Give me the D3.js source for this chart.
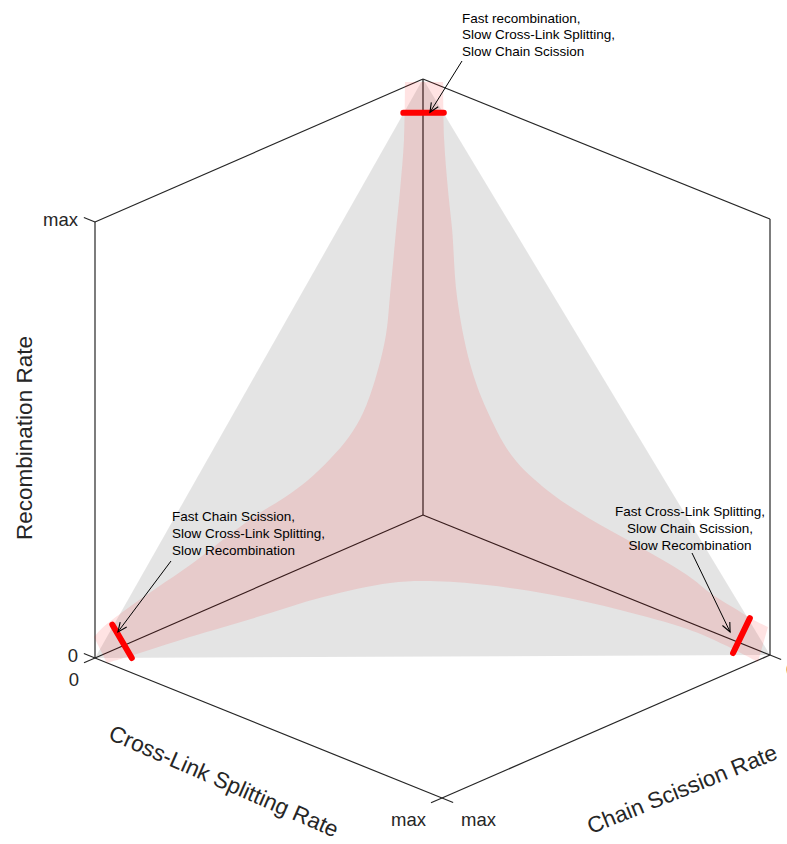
<!DOCTYPE html>
<html><head><meta charset="utf-8">
<script src="https://cdn.jsdelivr.net/npm/d3@7"></script>
<style>body{margin:0;background:#fff}svg{display:block}</style>
</head><body><svg id="chart" width="787" height="844"></svg>
<script>
// ---------- data (values in units of each rate's max, order [CS, CL, R]) ----------
const axisNames = ["Chain Scission Rate", "Cross-Link Splitting Rate", "Recombination Rate"];
const tickValues = [0, 1];
const tickLabels = ["0", "max"];

// plane of constant total rate (grey)
const simplexCorners = [[1, 0, 0], [0, 1, 0], [0, 0, 1]];

// pink region boundary
const bandUpperLeft = [ // on CL = 0 wall, from top arm to CS arm
  [0.055, 0, 1.011], [0.058, 0, 0.879], [0.070, 0, 0.768], [0.082, 0, 0.681],
  [0.101, 0, 0.533], [0.113, 0, 0.450], [0.146, 0, 0.358], [0.183, 0, 0.294],
  [0.226, 0, 0.253], [0.284, 0, 0.221], [0.351, 0, 0.195], [0.421, 0, 0.179],
  [0.497, 0, 0.168], [0.579, 0, 0.151], [0.710, 0, 0.118], [0.811, 0, 0.099],
  [0.915, 0, 0.078], [0.985, 0, 0.059], [1.003, 0, 0.049]
];
const bandLower = [ // on R = 0 floor, from CS arm to CL arm
  [1.001, 0.035, 0], [0.916, 0.050, 0], [0.785, 0.070, 0], [0.614, 0.102, 0],
  [0.444, 0.132, 0], [0.295, 0.184, 0], [0.230, 0.237, 0], [0.161, 0.336, 0],
  [0.100, 0.469, 0], [0.056, 0.621, 0], [0.027, 0.787, 0], [0.030, 0.898, 0],
  [0.043, 1.006, 0]
];
const bandUpperRight = [ // on CS = 0 wall, from CL arm to top arm
  [0, 0.994, 0.062], [0, 0.942, 0.066], [0, 0.905, 0.073], [0, 0.836, 0.085],
  [0, 0.761, 0.107], [0, 0.617, 0.129], [0, 0.473, 0.147], [0, 0.357, 0.172],
  [0, 0.259, 0.216], [0, 0.184, 0.300], [0, 0.135, 0.392], [0, 0.098, 0.532],
  [0, 0.084, 0.681], [0, 0.072, 0.769], [0, 0.061, 0.880], [0, 0.058, 1.012]
];

// red regime markers
const markers = [
  [[0.060, 0, 0.942], [0, 0.060, 0.942]],
  [[0.947, 0, 0.059], [0.946, 0.055, 0]],
  [[0, 0.942, 0.066], [0.047, 0.938, 0]]
];

// annotations
const annotationTexts = [
  ["Fast recombination,", "Slow Cross-Link Splitting,", "Slow Chain Scission"],
  ["Fast Chain Scission,", "Slow Cross-Link Splitting,", "Slow Recombination"],
  ["Fast Cross-Link Splitting,", "Slow Chain Scission,", "Slow Recombination"]
];
const annotationTargets = [[0, 0.02, 0.93], [0.93, 0, 0.037], [0, 0.885, 0.016]];

// ---------- layout ----------
const annotationLayout = [
  {x: 462, y: 22.5, anchor: "start", from: [462, 61]},
  {x: 172, y: 521, anchor: "start", from: [171, 561]},
  {x: 690, y: 516, anchor: "middle", from: [692, 553]}
];
const origin = [423, 515];
const FONT = "'Liberation Sans', Arial, Helvetica, sans-serif";
const AXC = "#262626";

// projection via linear scales (orthographic 3-D view)
const csX = d3.scaleLinear().domain([0, 1]).range([0, -328]);
const csY = d3.scaleLinear().domain([0, 1]).range([0, 143]);
const clX = d3.scaleLinear().domain([0, 1]).range([0, 347]);
const clY = d3.scaleLinear().domain([0, 1]).range([0, 140]);
const rY  = d3.scaleLinear().domain([0, 1]).range([0, -436]);
const P = p => [origin[0] + csX(p[0]) + clX(p[1]), origin[1] + csY(p[0]) + clY(p[1]) + rY(p[2])];

const svg = d3.select("#chart");
const g = svg.append("g");

// box lines
const d0 = tickValues[0], d1 = tickValues[1];
const edges = [
  [[d0, d0, d0], [d0, d0, d1]], [[d0, d0, d0], [d1, d0, d0]], [[d0, d0, d0], [d0, d1, d0]],
  [[d1, d0, d0], [d1, d0, d1]], [[d0, d1, d0], [d0, d1, d1]],
  [[d1, d0, d1], [d0, d0, d1]], [[d0, d0, d1], [d0, d1, d1]],
  [[d1, d0, d0], [d1, d1, d0]], [[d1, d1, d0], [d0, d1, d0]]
];
g.selectAll("line.edge").data(edges).join("line").attr("class", "edge")
  .attr("x1", d => P(d[0])[0]).attr("y1", d => P(d[0])[1])
  .attr("x2", d => P(d[1])[0]).attr("y2", d => P(d[1])[1])
  .attr("stroke", AXC).attr("stroke-width", 1.2);

// ticks
const tickLen = 12;
function tickSeg(pt, dirVec) {
  const a = P(pt), b = P([pt[0] + dirVec[0], pt[1] + dirVec[1], pt[2] + dirVec[2]]);
  const dx = b[0] - a[0], dy = b[1] - a[1], L = Math.hypot(dx, dy);
  return [a, [a[0] + dx / L * tickLen, a[1] + dy / L * tickLen]];
}
const ticks = [];
tickValues.forEach(v => {
  ticks.push(tickSeg([d1, d0, v], [0, -1, 0]));   // recombination axis
  ticks.push(tickSeg([d1, v, d0], [1, 0, 0]));    // cross-link axis
  ticks.push(tickSeg([v, d1, d0], [0, 1, 0]));    // chain scission axis
});
g.selectAll("line.tick").data(ticks).join("line").attr("class", "tick")
  .attr("x1", d => d[0][0]).attr("y1", d => d[0][1])
  .attr("x2", d => d[1][0]).attr("y2", d => d[1][1])
  .attr("stroke", AXC).attr("stroke-width", 1.2);

// grey plane
g.append("path")
  .attr("d", d3.line()(simplexCorners.map(P)) + "Z")
  .attr("fill", "#000").attr("fill-opacity", 0.105);

// pink band
const curve = d3.line().curve(d3.curveCatmullRom.alpha(0.5));
const bandPath = curve(bandUpperLeft.map(P)) +
  curve(bandLower.map(P)).replace(/^M/, "L") +
  curve(bandUpperRight.map(P)).replace(/^M/, "L") + "Z";
g.append("path").attr("d", bandPath)
  .attr("fill", "#ff0000").attr("fill-opacity", 0.11);

// red markers
g.selectAll("line.marker").data(markers).join("line").attr("class", "marker")
  .attr("x1", d => P(d[0])[0]).attr("y1", d => P(d[0])[1])
  .attr("x2", d => P(d[1])[0]).attr("y2", d => P(d[1])[1])
  .attr("stroke", "#ff0000").attr("stroke-width", 6).attr("stroke-linecap", "round");

// tick labels
const tl = g.append("g").attr("font-family", FONT).attr("font-size", 18.5).attr("fill", AXC);
tickValues.forEach((v, i) => {
  let p = P([d1, d0, v]);
  tl.append("text").attr("x", p[0] - 17).attr("y", p[1] + 4).attr("text-anchor", "end").text(tickLabels[i]);
  p = P([d1, v, d0]);
  tl.append("text").attr("x", p[0] - 16).attr("y", p[1] + 28).attr("text-anchor", "end").text(tickLabels[i]);
  p = P([v, d1, d0]);
  const off = i === 1 ? [19, 28] : [16, 21];
  tl.append("text").attr("x", p[0] + off[0]).attr("y", p[1] + off[1]).attr("text-anchor", "start").text(tickLabels[i]);
});

// axis labels
const al = g.append("g").attr("font-family", FONT).attr("font-size", 22.5).attr("fill", AXC)
  .attr("text-anchor", "middle");
al.append("text").attr("transform", "translate(24,438) rotate(-90)").attr("dy", "0.35em").text(axisNames[2]);
al.append("text").attr("transform", "translate(224,781) rotate(23.56)").attr("dy", "0.35em").text(axisNames[1]);
al.append("text").attr("transform", "translate(682,789) rotate(-21.97)").attr("dy", "0.35em").text(axisNames[0]);

// annotations
const an = g.append("g").attr("font-family", FONT).attr("font-size", 13.5).attr("fill", "#000");
annotationTexts.forEach((lines, i) => {
  const L = annotationLayout[i];
  const t = an.append("text").attr("text-anchor", L.anchor);
  lines.forEach((s, j) => t.append("tspan").attr("x", L.x).attr("y", L.y + j * 16.8).text(s));
  const tip = P(annotationTargets[i]), s = L.from;
  const ang = Math.atan2(tip[1] - s[1], tip[0] - s[0]);
  const hl = 10, ha = 0.42;
  an.append("line").attr("x1", s[0]).attr("y1", s[1]).attr("x2", tip[0]).attr("y2", tip[1])
    .attr("stroke", "#000").attr("stroke-width", 1);
  const w1 = [tip[0] - hl * Math.cos(ang - ha), tip[1] - hl * Math.sin(ang - ha)];
  const w2 = [tip[0] - hl * Math.cos(ang + ha), tip[1] - hl * Math.sin(ang + ha)];
  an.append("path").attr("d", d3.line()([w1, tip, w2]))
    .attr("fill", "none").attr("stroke", "#000").attr("stroke-width", 1.1);
});
</script></body></html>
